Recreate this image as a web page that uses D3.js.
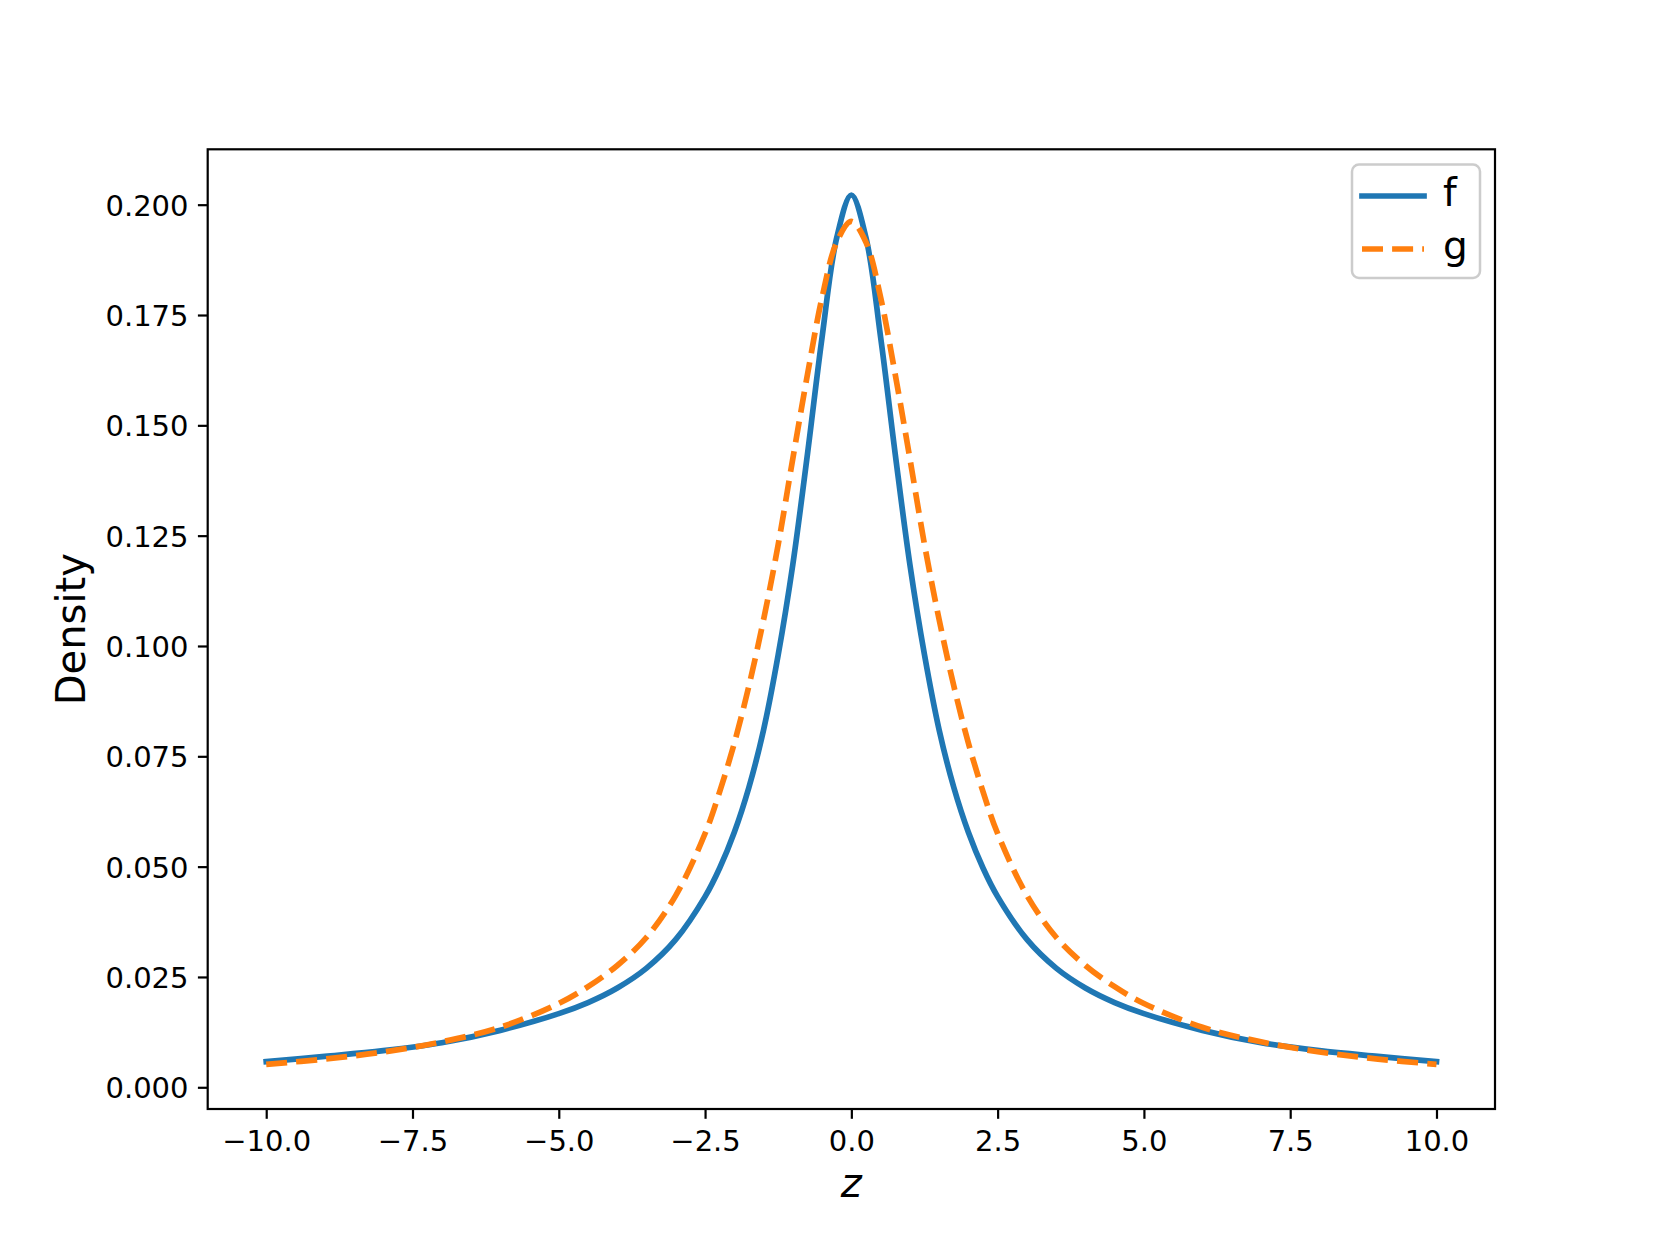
<html>
<head>
<meta charset="utf-8">
<script src="https://d3js.org/d3.v7.min.js"></script>
<style>
body { margin: 0; background: #fff; }
svg { display: block; }
text { font-family: "DejaVu Sans", sans-serif; fill: #000; }
</style>
</head>
<body>
<svg id="chart" width="1661" height="1246"></svg>
<script>
// values (z >= 0 half, curves are mirrored)
var zHalf = [0, 0.25, 0.5, 0.75, 1, 1.25, 1.5, 1.75, 2, 2.25, 2.5, 3, 3.5, 4, 4.5, 5, 6, 7, 8, 9, 10];
var fHalf = [0.2022, 0.1925, 0.170, 0.1435, 0.1185, 0.098, 0.081, 0.068, 0.0578, 0.0497, 0.0432, 0.0335, 0.027, 0.0225, 0.0192, 0.0167, 0.0129, 0.0101, 0.0083, 0.007, 0.0058];
var gHalf = [0.1962, 0.1915, 0.179, 0.1615, 0.1425, 0.123, 0.106, 0.091, 0.078, 0.067, 0.0575, 0.0435, 0.034, 0.0276, 0.0228, 0.019, 0.0136, 0.0103, 0.008, 0.0064, 0.0052];

var zs = zHalf.slice(1).reverse().map(function (z) { return -z; }).concat(zHalf);
var fVals = fHalf.slice(1).reverse().concat(fHalf);
var gVals = gHalf.slice(1).reverse().concat(gHalf);

var xTicks = [-10, -7.5, -5, -2.5, 0, 2.5, 5, 7.5, 10];
var yTicks = [0, 0.025, 0.05, 0.075, 0.1, 0.125, 0.15, 0.175, 0.2];
var seriesNames = ["f", "g"];
var colors = ["#1f77b4", "#ff7f0e"];

var svg = d3.select("#chart");
var L = 207.7, R = 1495, T = 149.3, B = 1109;

var x = d3.scaleLinear().domain([-11, 11]).range([L, R]);
var y = d3.scaleLinear().domain([-0.00492, 0.21255]).range([B, T]);

var minus = function (s) { return s.replace("-", "\u2212"); };

// lines
var line = d3.line()
  .x(function (d) { return x(d[0]); })
  .y(function (d) { return y(d[1]); })
  .curve(d3.curveCatmullRom.alpha(0.5));

var fData = zs.map(function (z, i) { return [z, fVals[i]]; });
var gData = zs.map(function (z, i) { return [z, gVals[i]]; });

svg.append("defs").append("clipPath").attr("id", "clip")
  .append("rect").attr("x", L).attr("y", T).attr("width", R - L).attr("height", B - T);

var plot = svg.append("g").attr("clip-path", "url(#clip)");
plot.append("path").datum(fData)
  .attr("d", line).attr("fill", "none")
  .attr("stroke", colors[0]).attr("stroke-width", 5.7)
  .attr("stroke-linecap", "square").attr("stroke-linejoin", "round");
plot.append("path").datum(gData)
  .attr("d", line).attr("fill", "none")
  .attr("stroke", colors[1]).attr("stroke-width", 5.7)
  .attr("stroke-dasharray", "21,9.1");

// axes
var xAxis = svg.append("g").attr("transform", "translate(0," + B + ")")
  .call(d3.axisBottom(x).tickValues(xTicks).tickSize(9.8)
    .tickFormat(function (d) { return minus(d3.format(".1f")(d)); }));
var yAxis = svg.append("g").attr("transform", "translate(" + L + ",0)")
  .call(d3.axisLeft(y).tickValues(yTicks).tickSize(9.8).tickPadding(9.4)
    .tickFormat(d3.format(".3f")));

[xAxis, yAxis].forEach(function (a) {
  a.select(".domain").remove();
  a.selectAll(".tick line").attr("stroke", "#000").attr("stroke-width", 2.2);
  a.selectAll(".tick text").attr("font-size", 29).attr("font-family", "DejaVu Sans").attr("fill", "#000");
});
xAxis.selectAll(".tick text").attr("y", 42).attr("dy", 0);
yAxis.selectAll(".tick text").attr("dy", "0.36em");

svg.append("rect").attr("x", L).attr("y", T).attr("width", R - L).attr("height", B - T)
  .attr("fill", "none").attr("stroke", "#000").attr("stroke-width", 2.2);

// axis labels
svg.append("text").attr("x", (L + R) / 2).attr("y", 1197)
  .attr("text-anchor", "middle").attr("font-size", 40).attr("font-style", "italic")
  .text("z");
svg.append("text").attr("transform", "translate(85," + ((T + B) / 2) + ") rotate(-90)")
  .attr("text-anchor", "middle").attr("font-size", 40)
  .text("Density");

// legend
var lg = svg.append("g");
lg.append("rect").attr("x", 1352).attr("y", 164.5).attr("width", 128).attr("height", 113.5)
  .attr("rx", 7).attr("fill", "#fff").attr("fill-opacity", 0.8)
  .attr("stroke", "#cccccc").attr("stroke-width", 2.5);
seriesNames.forEach(function (name, i) {
  var ly = 196 + i * 53;
  lg.append("line").attr("x1", 1362).attr("x2", 1424).attr("y1", ly).attr("y2", ly)
    .attr("stroke", colors[i]).attr("stroke-width", 5.7)
    .attr("stroke-linecap", i === 0 ? "square" : "butt")
    .attr("stroke-dasharray", i === 0 ? null : "21,9.1");
  lg.append("text").attr("x", 1443).attr("y", ly + 9.5)
    .attr("font-size", 39).text(name);
});
</script>
</body>
</html>
